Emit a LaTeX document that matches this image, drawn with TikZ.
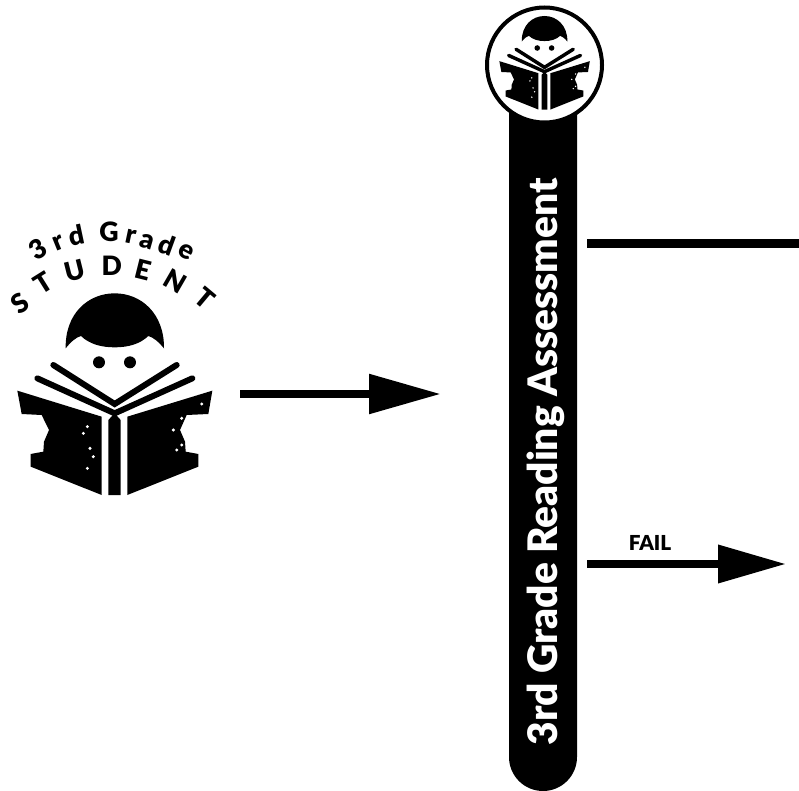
\documentclass[tikz,border=0pt]{standalone}
\usepackage{fontspec}
\setmainfont{Lato}[BoldFont={Lato Black}]
\usetikzlibrary{arrows.meta}
\tikzset{
  x=0.75pt,y=-0.75pt,
  flowline/.style={line width=6.5pt,draw=black,line cap=butt},
  bigarrow/.style={flowline,-{Triangle[length=54pt,width=28.5pt]}},
  ltr/.style={inner sep=0pt,font=\bfseries\fontsize{20}{20}\selectfont},
  ltrcap/.style={inner sep=0pt,font=\bfseries\fontsize{20}{20}\selectfont},
}
% reader icon in coordinates of 3x pixels
\newcommand{\readericon}[2]{%
  \fill[black] (197,445) .. controls (195,340) and (265,280) .. (344,280)
     .. controls (423,280) and (493,340) .. (492,445)
     .. controls (475,425) and (460,412) .. (445,408)
     .. controls (420,432) and (385,442) .. (344,442)
     .. controls (303,442) and (268,432) .. (243,408)
     .. controls (228,412) and (213,425) .. (197,445) -- cycle;
  \fill[black] (297,487) circle[radius=18];
  \fill[black] (390,487) circle[radius=18];
  \draw[black,line width=#1,line cap=round,line join=miter] (160,495) -- (344,612) -- (530,495);
  \draw[black,line width=#1,line cap=round,line join=miter] (112,535) -- (344,640) -- (577,535);
  \fill[black] (52,572) -- (305,650) -- (305,885) -- (92,800) -- (92,762) -- (130,755) -- (132,725) -- (147,690) -- (125,645) -- (65,642) -- cycle;
  \fill[black] (637,572) -- (382,650) -- (382,885) -- (595,800) -- (595,762) -- (557,755) -- (555,725) -- (540,690) -- (560,645) -- (625,642) -- cycle;
  \fill[black] (325,660) -- (344,640) -- (362,660) -- (362,885) -- (325,885) -- cycle;
  \fill[white] (262,680) circle[radius=#2] (270,745) circle[radius=#2] (262,805) circle[radius=#2]
     (545,655) circle[radius=#2] (530,750) circle[radius=#2] (605,612) circle[radius=#2]
     (250,700) circle[radius=#2] (280,770) circle[radius=#2] (520,690) circle[radius=#2] (545,735) circle[radius=#2];
}
\begin{document}
\begin{tikzpicture}
\useasboundingbox (0,0) rectangle (799,791);
% student icon
\begin{scope}[shift={(0,200)},x=0.25pt,y=-0.25pt]
  \readericon{4.5pt}{5}
  \node[ltr,rotate=32] (l1) at (115,146) {3};
  \node[ltr,rotate=22] (l2) at (176,130) {r};
  \node[ltr,rotate=12] (l3) at (228,106) {d};
  \node[ltr] (l4) at (327,95) {G};
  \node[ltr,rotate=-12] (l5) at (392,111) {r};
  \node[ltr,rotate=-16] (l6) at (441,125) {a};
  \node[ltr,rotate=-20] (l7) at (500,135) {d};
  \node[ltr,rotate=-28] (l8) at (557,155) {e};
  \node[ltrcap,rotate=35] (s1) at (60,310) {S};
  \node[ltrcap,rotate=32] (s2) at (130,250) {T};
  \node[ltrcap,rotate=14] (s3) at (225,212) {U};
  \node[ltrcap] (s4) at (335,197) {D};
  \node[ltrcap,rotate=-14] (s5) at (430,210) {E};
  \node[ltrcap,rotate=-30] (s6) at (525,245) {N};
  \node[ltrcap,rotate=-40] (s7) at (615,295) {T};
\end{scope}
% assessment bar
\fill[black,rounded corners=25.5pt] (509,60) rectangle (577,791);
\node[white,rotate=90,inner sep=0pt,anchor=base,font=\bfseries\fontsize{30.5}{30.5}\selectfont] (bar) at (557,462) {3rd Grade Reading Assessment};
% circular badge
\fill[white,draw=black,line width=3pt] (544.5,65) circle[radius=57.5];
\begin{scope}[shift={(544.5,16)},x=0.116pt,y=-0.116pt]
  \begin{scope}[shift={(-344,-280)}]
    \readericon{2.6pt}{5}
  \end{scope}
\end{scope}
% connectors
\coordinate (studentout) at (240,394);
\coordinate (barin) at (441,394);
\coordinate (passstart) at (587,243.5);
\coordinate (passend) at (799,243.5);
\coordinate (failstart) at (587,564);
\coordinate (failend) at (786,564);
\draw[bigarrow] (studentout) -- (barin);
\draw[flowline] (passstart) -- (passend);
\draw[flowline,line width=6pt,-{Triangle[length=51pt,width=27.5pt]}] (failstart) -- (failend);
\node[inner sep=0pt,font=\bfseries\fontsize{15.5}{15.5}\selectfont] (faillabel) at (650,543) {FAIL};
\end{tikzpicture}
\end{document}
